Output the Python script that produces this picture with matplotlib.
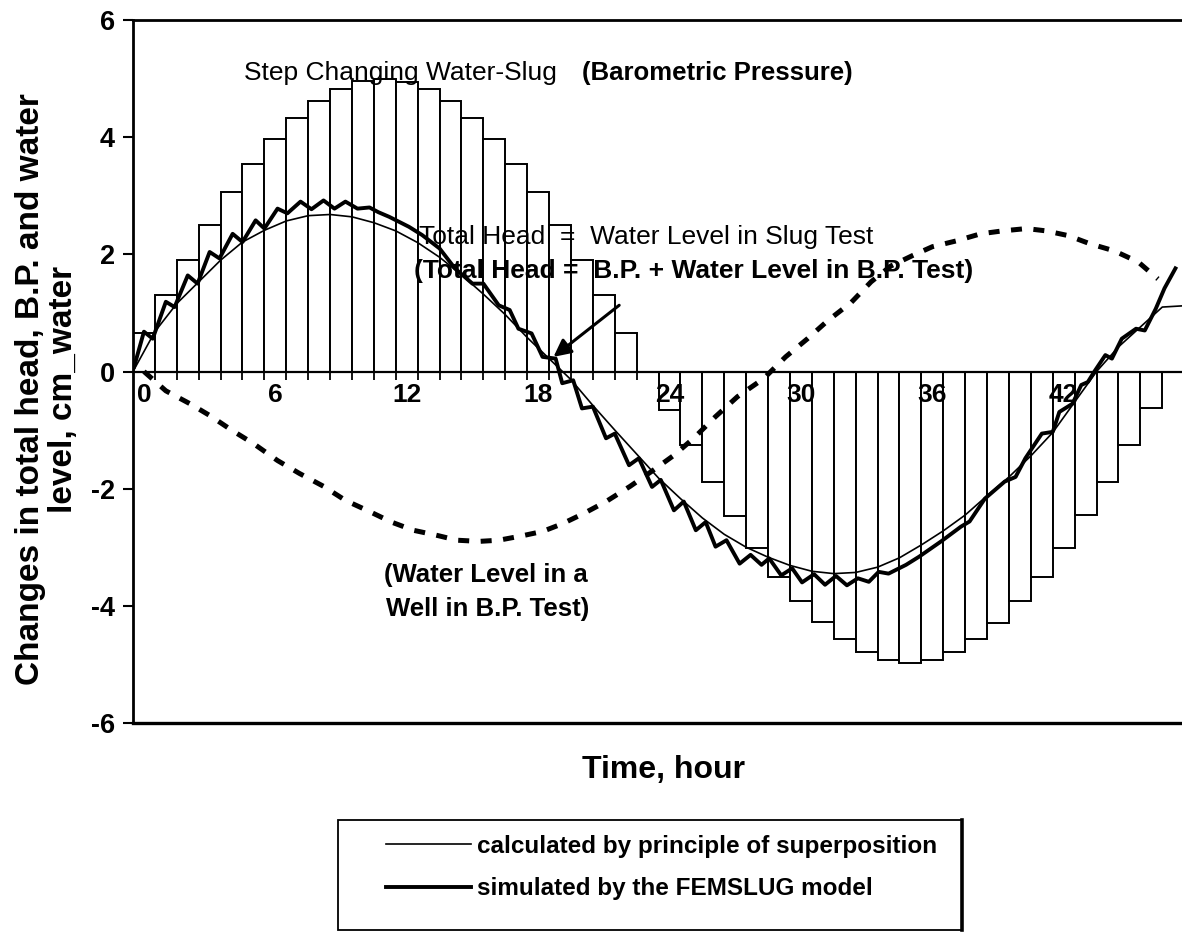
import matplotlib
matplotlib.use("Agg")
import matplotlib.pyplot as plt
from matplotlib.patches import Rectangle
from matplotlib.lines import Line2D

plt.rcParams['font.family'] = ['Liberation Sans', 'DejaVu Sans']
plt.rcParams['axes.unicode_minus'] = False

# Hourly step changes of barometric pressure (water-slug), cm of water
hours = list(range(48))
bp_step = [0.65, 1.30, 1.91, 2.50, 3.06, 3.54, 3.97, 4.33, 4.62, 4.83, 4.96, 5.00,
           4.94, 4.83, 4.62, 4.33, 3.97, 3.54, 3.06, 2.50, 1.91, 1.30, 0.65, 0.00,
           -0.65, -1.26, -1.88, -2.46, -3.01, -3.50, -3.92, -4.28, -4.57, -4.79, -4.92, -4.97,
           -4.92, -4.79, -4.57, -4.29, -3.92, -3.50, -3.02, -2.45, -1.89, -1.26, -0.63, 0.00]

# Total head calculated by the principle of superposition
calc_t = [-0.5, 0.5, 1.5, 2.5, 3.5, 4.5, 5.5, 6.5, 7.5, 8.5, 9.5, 10.5, 11.5, 12.5,
          13.5, 14.5, 15.5, 16.5, 17.5, 18.5, 19.5, 20.5, 21.5, 22.5, 23.5, 24.5, 25.5,
          26.5, 27.5, 28.5, 29.5, 30.5, 31.5, 32.5, 33.5, 34.5, 35.5, 36.5, 37.5, 38.5,
          39.5, 40.5, 41.5, 42.5, 43.5, 44.5, 45.5, 46.5, 47.4]
calc_v = [0.00, 0.68, 1.16, 1.53, 1.90, 2.21, 2.41, 2.57, 2.66, 2.68, 2.64, 2.54, 2.40, 2.20,
          1.95, 1.65, 1.32, 0.97, 0.58, 0.22, -0.14, -0.58, -1.00, -1.41, -1.82, -2.17, -2.50,
          -2.78, -3.00, -3.17, -3.31, -3.41, -3.45, -3.43, -3.34, -3.18, -2.96, -2.72, -2.45, -2.12,
          -1.80, -1.44, -1.04, -0.52, 0.00, 0.42, 0.76, 1.10, 1.12]

# Total head simulated by the FEMSLUG model
sim_t = [-0.45, 0.0, 0.4, 1.0, 1.4, 2.0, 2.45, 3.0, 3.45, 4.05, 4.5, 5.1, 5.5, 6.1, 6.55,
         7.15, 7.65, 8.2, 8.7, 9.2, 9.75, 10.3, 10.7, 11.2, 12.1, 12.7, 13.5, 14.2, 15.0,
         15.5, 16.2, 16.7, 17.1, 17.7, 18.2, 18.8, 19.1, 19.6, 20.0, 20.5, 21.1, 21.5,
         22.15, 22.6, 23.2, 23.6, 24.2, 24.65, 25.2, 25.65, 26.1, 26.6, 27.2, 27.7, 28.2,
         28.55, 29.1, 29.6, 30.05, 30.6, 31.1, 31.6, 32.1, 32.6, 33.1, 33.55, 34.0, 34.8,
         35.4, 36.4, 37.3, 37.7, 38.4, 39.3, 39.8, 40.25, 41.0, 41.5, 41.8, 42.4, 42.8,
         43.1, 43.4, 43.9, 44.2, 44.65, 45.3, 45.7, 46.2, 46.6, 47.1]
sim_v = [0.08, 0.68, 0.56, 1.19, 1.10, 1.64, 1.50, 2.04, 1.93, 2.35, 2.21, 2.58, 2.44, 2.78, 2.70,
         2.90, 2.77, 2.92, 2.78, 2.90, 2.78, 2.80, 2.72, 2.64, 2.47, 2.33, 2.10, 1.76, 1.50,
         1.50, 1.13, 1.05, 0.73, 0.65, 0.25, 0.22, -0.20, -0.15, -0.63, -0.60, -1.14, -1.06,
         -1.60, -1.48, -1.97, -1.85, -2.37, -2.22, -2.71, -2.57, -2.99, -2.88, -3.28, -3.13, -3.30,
         -3.19, -3.48, -3.36, -3.60, -3.46, -3.64, -3.49, -3.65, -3.53, -3.59, -3.42, -3.45, -3.30,
         -3.16, -2.90, -2.65, -2.56, -2.17, -1.88, -1.80, -1.48, -1.06, -1.03, -0.69, -0.55, -0.23,
         -0.18, 0.00, 0.28, 0.22, 0.56, 0.73, 0.70, 1.07, 1.42, 1.76]

# Water level in a well during the barometric-pressure test
well_t = [0.0, 1.0, 2.1, 3.0, 4.0, 5.0, 6.1, 7.1, 8.2, 9.2, 10.3, 11.3, 12.3, 13.3, 14.3,
          15.3, 16.2, 17.2, 18.2, 19.1, 20.1, 21.1, 22.2, 23.2, 24.2, 25.1, 26.1, 27.1,
          28.3, 29.3, 30.3, 31.2, 32.3, 33.2, 34.1, 35.1, 36.0, 37.1, 38.2, 39.2, 40.3,
          41.2, 42.2, 43.2, 44.3, 45.4, 46.3]
well_v = [0.00, -0.33, -0.55, -0.75, -1.00, -1.23, -1.52, -1.74, -1.96, -2.20, -2.39, -2.57,
          -2.71, -2.79, -2.88, -2.90, -2.88, -2.81, -2.73, -2.60, -2.42, -2.22, -1.96, -1.70,
          -1.43, -1.14, -0.77, -0.43, -0.12, 0.25, 0.56, 0.86, 1.18, 1.53, 1.80, 1.98, 2.13,
          2.23, 2.35, 2.40, 2.44, 2.40, 2.32, 2.18, 2.06, 1.87, 1.58]

x_ticks = [0, 6, 12, 18, 24, 30, 36, 42]
y_ticks = [-6, -4, -2, 0, 2, 4, 6]

W, H = 1182, 932
fig = plt.figure(figsize=(W / 100, H / 100), dpi=100)
ax = fig.add_axes([133 / W, 209 / H, 1049 / W, 703 / H])
ax.set_xlim(-0.5, 47.4)
ax.set_ylim(-6, 6)
ax.set_axisbelow(False)  # tick labels sit on top of the bars

ax.bar(hours, bp_step, width=1.0, color='white', edgecolor='black', linewidth=1.4, zorder=2)
ax.plot(well_t, well_v, color='black', lw=3.6, dashes=(2.2, 2.3),
        dash_capstyle='butt', zorder=3)
calc_line, = ax.plot(calc_t, calc_v, color='black', lw=1.2, zorder=4)
sim_line, = ax.plot(sim_t, sim_v, color='black', lw=2.8, zorder=5,
                    solid_joinstyle='round')

# frame: x axis crosses at zero, plot-area border at the bottom
ax.spines['right'].set_visible(False)
ax.spines['top'].set_linewidth(2.0)
ax.spines['left'].set_linewidth(2.0)
ax.spines['bottom'].set_position(('data', 0))
ax.spines['bottom'].set_linewidth(1.6)
ax.axhline(ax.get_ylim()[0], color='black', lw=2.4, clip_on=False, zorder=6)

ax.set_xticks(x_ticks)
ax.set_xticklabels([str(v) for v in x_ticks])
ax.set_xticks([h + 0.5 for h in hours[:-1]], minor=True)
ax.tick_params(axis='x', which='major', length=0, pad=8, labelsize=19)
ax.tick_params(axis='x', which='minor', length=6, width=1.3, direction='out')
ax.set_yticks(y_ticks)
ax.set_yticklabels([str(v) for v in y_ticks])
ax.tick_params(axis='y', length=7, width=1.5, pad=6, labelsize=19.5)
for lbl in ax.get_xticklabels() + ax.get_yticklabels():
    lbl.set_fontweight('bold')

ax.set_xlabel('Time, hour', fontsize=23, fontweight='bold')
ax.xaxis.label.set_va('center')
ax.xaxis.set_label_coords(0.506, -0.067)
ax.set_ylabel('Changes in total head, B.P. and water\nlevel, cm_water',
              fontsize=24, fontweight='bold', linespacing=1.1)
ax.yaxis.label.set_va('center')
ax.yaxis.set_label_coords(-0.082, 0.475)

ax.text(4.58, 5.09, 'Step Changing Water-Slug', fontsize=19, va='center', zorder=7)
ax.text(20.0, 5.09, '(Barometric Pressure)', fontsize=18.5, fontweight='bold',
        va='center', zorder=7)
ax.text(12.57, 2.30, 'Total Head  =  Water Level in Slug Test', fontsize=19,
        va='center', zorder=7)
ax.text(12.34, 1.71, '(Total Head =  B.P. + Water Level in B.P. Test)', fontsize=19,
        fontweight='bold', va='center', zorder=7)
ax.text(10.97, -3.48, '(Water Level in a', fontsize=18.5, fontweight='bold',
        va='center', zorder=7)
ax.text(11.06, -4.06, 'Well in B.P. Test)', fontsize=18.5, fontweight='bold',
        va='center', zorder=7)
ax.annotate('', xy=(18.6, 0.22), xytext=(21.8, 1.16),
            arrowprops=dict(arrowstyle='-|>', lw=2.2, color='black', mutation_scale=26),
            zorder=7)

leg = ax.legend([calc_line, sim_line],
                ['calculated by principle of superposition', 'simulated by the FEMSLUG model'],
                loc='upper left', bbox_to_anchor=(386 / W, 1 - 835 / H),
                bbox_transform=fig.transFigure, frameon=False, borderpad=0,
                borderaxespad=0, handlelength=3.5, handletextpad=0.25,
                labelspacing=0.8, prop={'size': 17.5, 'weight': 'bold'})
fig.add_artist(Rectangle((338 / W, 1 - 930 / H), 624 / W, 110 / H,
                         transform=fig.transFigure, fill=False, lw=1.3, ec='black'))
fig.add_artist(Line2D([962 / W, 962 / W], [1 - 930 / H, 1 - 820 / H],
                      transform=fig.transFigure, lw=2.6, color='black'))

fig.savefig('out.png', dpi=100)
